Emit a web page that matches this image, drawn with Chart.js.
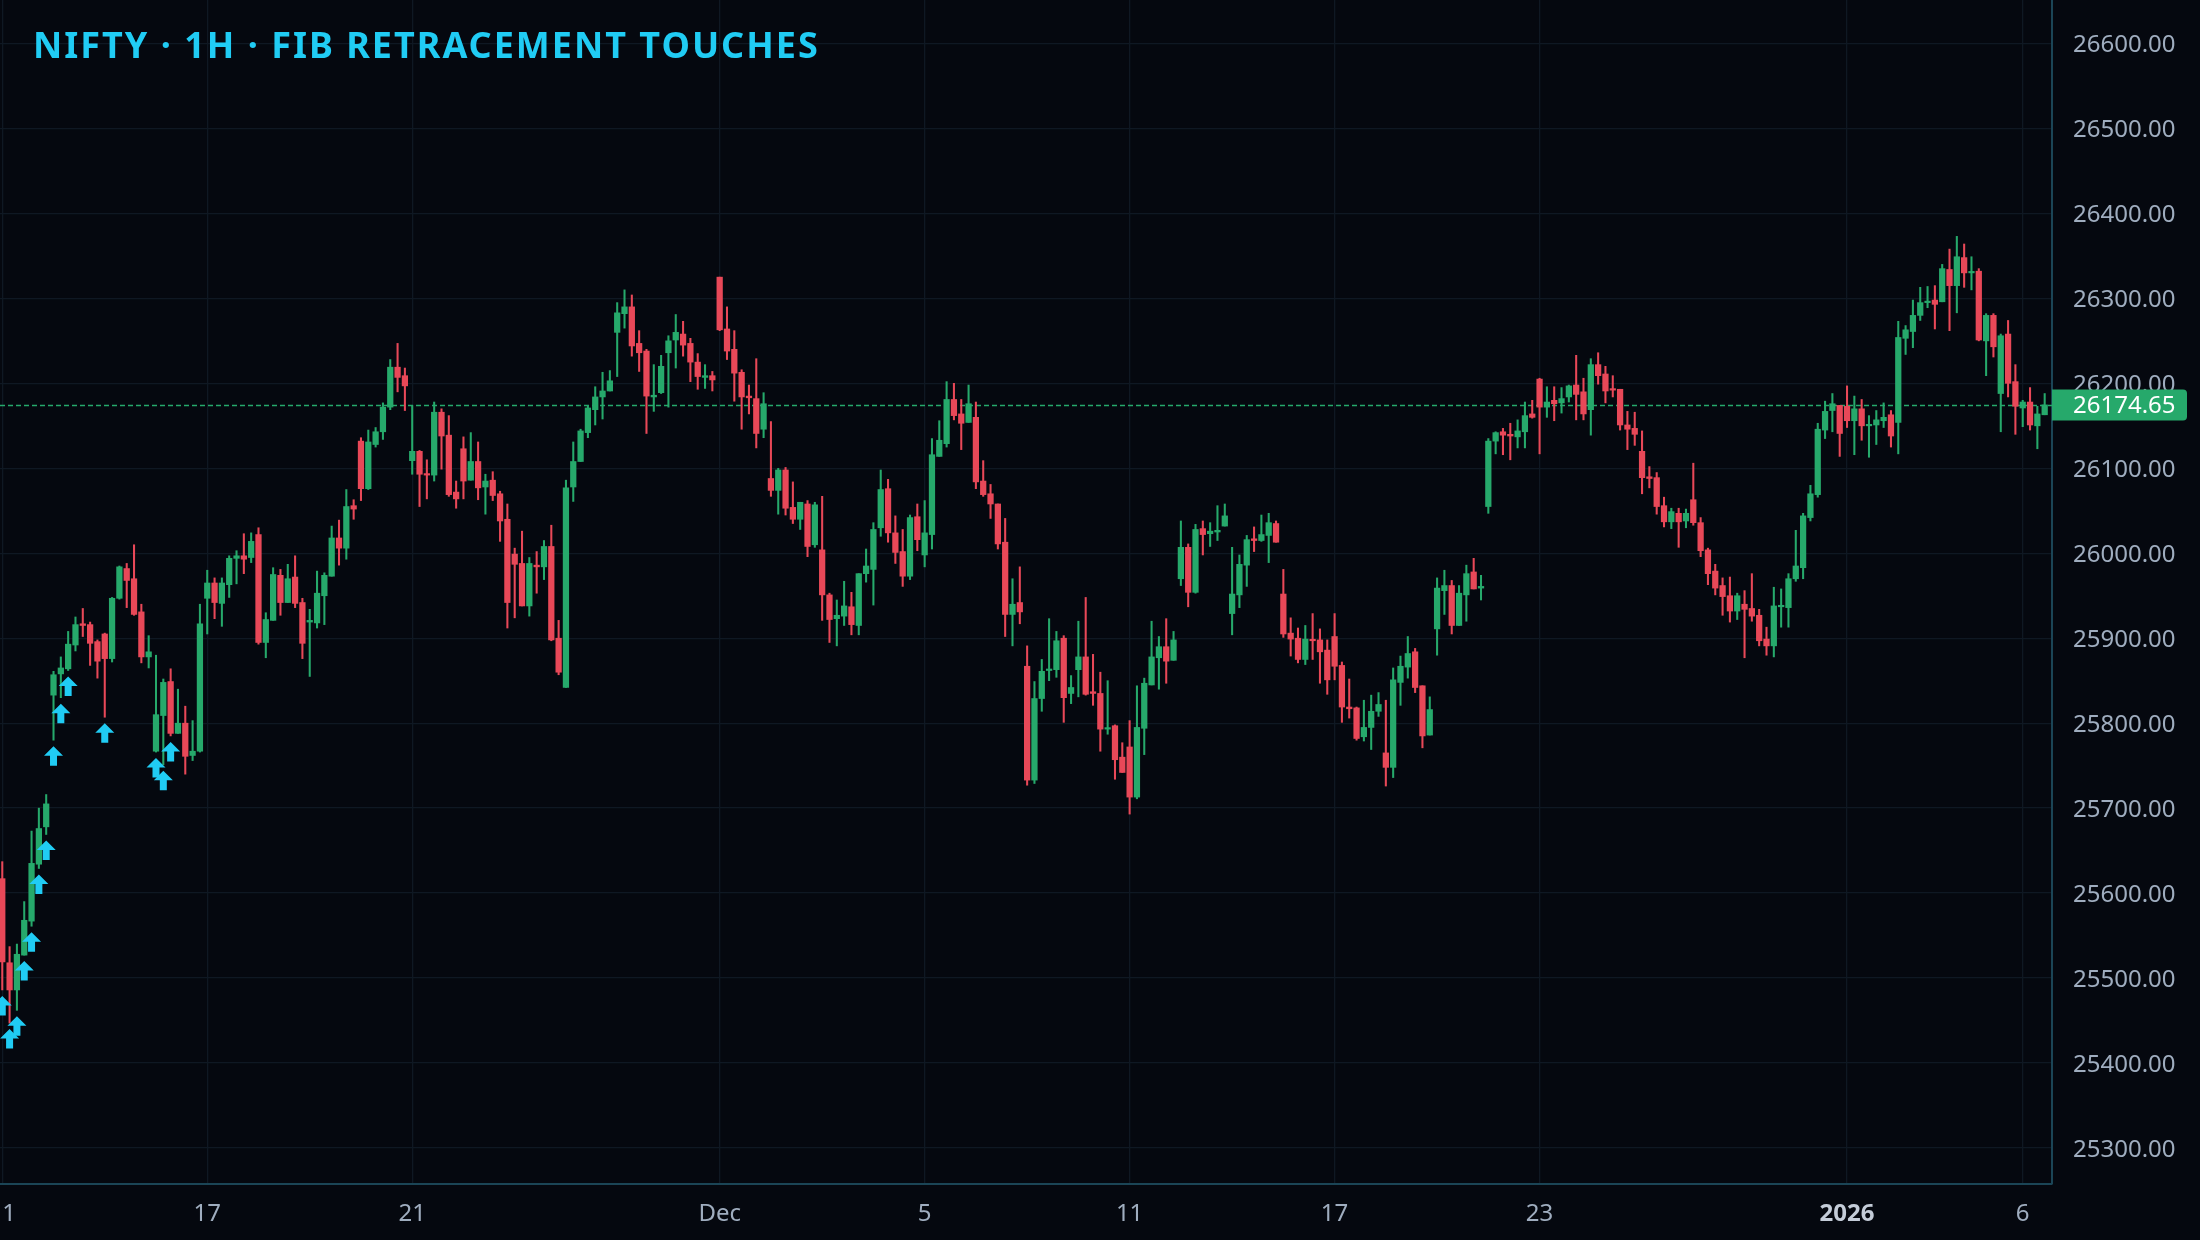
<!DOCTYPE html>
<html>
<head>
<meta charset="utf-8">
<script src="https://cdn.jsdelivr.net/npm/chart.js@4.4.1/dist/chart.umd.min.js"></script>
<style>
  html, body { margin: 0; padding: 0; background: #05080f; }
  #wrap { width: 2200px; height: 1240px; position: relative; }
</style>
</head>
<body>
<div id="wrap"><canvas id="niftyChart"></canvas></div>
<script>
// hourly bars, index 0 = Nov 11 09:15
const opens = [
  25617,25518,25486,25527,25567,25634,25678,25833,25858,25864,
  25892,25917,25916,25896,25905,25876,25947,25982,25970,25931,
  25878,25767,25809,25849,25788,25800,25762,25767,25947,25965,
  25941,25963,25994,25997,25995,26022,25895,25921,25974,25942,
  25972,25942,25919,25918,25950,25973,26018,26006,26056,26132,
  26076,26128,26143,26172,26219,26209,26109,26120,26093,26092,
  26166,26139,26072,26123,26086,26108,26078,26086,26070,26040,
  25999,25988,25938,25986,25984,26008,25900,25842,26078,26108,
  26142,26169,26184,26191,26260,26282,26290,26247,26238,26184,
  26189,26236,26251,26258,26247,26225,26207,26209,26325,26264,
  26240,26213,26185,26182,26146,26088,26074,26098,26054,26040,
  26058,26010,26004,25951,25923,25926,25937,25915,25976,25981,
  26030,26076,26024,26002,25973,26043,25998,26022,26114,26129,
  26181,26164,26154,26160,26085,26070,26058,26013,25928,25942,
  25867,25733,25829,25862,25863,25900,25835,25863,25878,25837,
  25835,25793,25797,25760,25772,25713,25794,25845,25877,25890,
  25874,25970,26007,25954,26029,26023,26025,26032,25929,25951,
  25986,26017,26015,26021,26035,25952,25906,25900,25875,25898,
  25898,25886,25902,25868,25819,25818,25784,25795,25814,25765,
  25748,25848,25866,25884,25844,25786,25911,25956,25962,25915,
  25951,25978,25959,26055,26132,26143,26140,26137,26143,26164,
  26205,26172,26180,26177,26184,26198,26190,26169,26222,26211,
  26193,26193,26151,26147,26120,26090,26089,26056,26037,26047,
  26038,26063,26036,26004,25979,25962,25950,25932,25940,25935,
  25927,25899,25891,25937,25936,25970,25983,26042,26069,26145,
  26168,26174,26173,26156,26170,26150,26151,26156,26163,26154,
  26253,26261,26280,26295,26298,26296,26334,26315,26348,26330,
  26332,26250,26280,26188,26258,26202,26171,26178,26150,26163
];
const highs = [
  25637,25537,25540,25590,25673,25700,25716,25861,25878,25908,
  25925,25935,25919,25898,25906,25948,25985,25988,26010,25940,
  25903,25880,25852,25864,25840,25820,25803,25940,25980,25971,
  25971,25997,26003,26023,26024,26030,25930,25983,25981,25987,
  25997,25947,25934,25979,25977,26032,26039,26075,26063,26136,
  26145,26148,26177,26228,26247,26218,26174,26121,26110,26178,
  26170,26162,26085,26137,26142,26131,26093,26096,26073,26058,
  26006,26026,25995,26002,26015,26033,25921,26086,26131,26146,
  26174,26196,26213,26215,26295,26310,26304,26262,26240,26222,
  26233,26256,26281,26273,26253,26235,26222,26214,26325,26290,
  26262,26216,26198,26229,26189,26155,26100,26101,26084,26060,
  26062,26060,26067,25953,25945,25967,25954,25976,26005,26036,
  26098,26087,26044,26028,26045,26058,26062,26135,26156,26202,
  26200,26181,26198,26178,26109,26081,26058,26041,25970,25984,
  25891,25849,25875,25923,25908,25903,25856,25920,25948,25881,
  25860,25850,25798,25777,25803,25844,25853,25920,25902,25923,
  25908,26038,26011,26034,26038,26036,26056,26058,26007,25998,
  26021,26031,26045,26047,26038,25981,25924,25912,25915,25929,
  25911,25898,25929,25872,25852,25819,25827,25833,25836,25827,
  25865,25879,25902,25888,25844,25831,25971,25980,25968,25962,
  25986,25994,25974,26135,26143,26147,26153,26157,26178,26180,
  26206,26196,26196,26195,26198,26233,26206,26229,26236,26220,
  26209,26193,26167,26166,26144,26102,26095,26066,26053,26053,
  26052,26106,26042,26006,25987,25971,25972,25953,25956,25976,
  25934,25913,25960,25958,25976,26027,26047,26080,26153,26179,
  26188,26174,26197,26185,26181,26162,26168,26177,26168,26273,
  26268,26298,26313,26314,26315,26340,26358,26373,26364,26349,
  26335,26282,26282,26258,26274,26222,26180,26195,26173,26188
];
const lows = [
  25486,25447,25462,25527,25561,25629,25669,25780,25830,25862,
  25885,25902,25868,25853,25807,25872,25946,25936,25927,25871,
  25865,25766,25751,25785,25788,25740,25756,25766,25905,25923,
  25914,25948,25964,25976,25989,25893,25877,25921,25927,25942,
  25936,25876,25855,25912,25916,25973,25986,25993,26040,26062,
  26075,26125,26134,26169,26190,26168,26093,26055,26064,26085,
  26099,26067,26053,26064,26086,26063,26046,26062,26014,25912,
  25924,25938,25926,25953,25969,25897,25857,25842,26061,26108,
  26136,26151,26158,26191,26208,26265,26232,26214,26141,26167,
  26188,26172,26218,26232,26202,26193,26194,26191,26262,26228,
  26179,26146,26164,26124,26136,26067,26046,26045,26035,26028,
  25996,26007,25921,25895,25891,25915,25904,25904,25966,25939,
  26020,26013,25988,25961,25969,26003,25984,26005,26114,26125,
  26157,26122,26154,26076,26067,26041,26005,25902,25891,25917,
  25727,25729,25814,25850,25854,25801,25823,25831,25833,25821,
  25767,25787,25734,25742,25693,25711,25763,25845,25840,25847,
  25874,25962,25937,25953,25998,26008,26015,26032,25904,25936,
  25961,26002,26014,25989,26013,25901,25879,25871,25869,25875,
  25847,25834,25851,25801,25806,25780,25779,25769,25808,25726,
  25736,25821,25853,25836,25771,25786,25880,25928,25905,25915,
  25920,25958,25945,26047,26117,26116,26110,26124,26124,26159,
  26117,26160,26156,26165,26178,26157,26157,26139,26199,26177,
  26184,26145,26122,26127,26070,26077,26046,26031,26029,26007,
  26030,26033,25996,25963,25951,25927,25919,25922,25877,25920,
  25891,25880,25878,25913,25913,25967,25970,26038,26066,26135,
  26143,26114,26148,26116,26133,26113,26128,26148,26125,26117,
  26234,26242,26274,26289,26264,26296,26262,26283,26313,26310,
  26250,26209,26231,26143,26184,26140,26149,26145,26123,26163
];
const closes = [
  25519,25486,25528,25568,25635,25676,25705,25857,25865,25893,
  25916,25915,25894,25873,25876,25947,25984,25968,25928,25878,
  25884,25810,25848,25788,25800,25761,25767,25917,25965,25942,
  25965,25994,25997,25993,26014,25895,25922,25975,25942,25970,
  25941,25894,25921,25953,25974,26018,26006,26055,26052,26076,
  26131,26143,26172,26219,26207,26197,26120,26093,26092,26166,
  26138,26069,26064,26085,26108,26077,26085,26068,26038,25942,
  25987,25938,25988,25984,26008,25898,25860,26077,26108,26144,
  26171,26184,26191,26203,26283,26290,26244,26236,26185,26186,
  26220,26250,26260,26245,26225,26208,26209,26204,26263,26238,
  26212,26184,26183,26141,26176,26074,26098,26053,26040,26060,
  26008,26057,25951,25922,25927,25938,25916,25976,25985,26028,
  26075,26024,26001,25973,26042,26016,26024,26116,26133,26181,
  26162,26153,26176,26084,26069,26058,26011,25928,25940,25931,
  25733,25829,25861,25863,25897,25830,25842,25878,25834,25835,
  25793,25794,25757,25742,25713,25795,25847,25878,25890,25873,
  25898,26007,25954,26028,26022,26026,26027,26044,25952,25987,
  26016,26015,26022,26036,26013,25905,25899,25875,25899,25897,
  25884,25851,25867,25819,25817,25782,25795,25814,25822,25748,
  25851,25867,25882,25842,25785,25816,25959,25962,25915,25953,
  25976,25958,25961,26132,26142,26139,26138,26144,26162,26160,
  26172,26178,26176,26182,26197,26187,26164,26222,26209,26191,
  26192,26151,26146,26140,26089,26088,26055,26037,26049,26037,
  26047,26036,26003,25976,25959,25949,25932,25950,25934,25926,
  25897,25891,25938,25938,25970,25985,26044,26070,26146,26167,
  26176,26141,26156,26170,26150,26151,26157,26160,26138,26254,
  26263,26280,26295,26296,26293,26335,26315,26349,26330,26331,
  26251,26280,26243,26256,26200,26173,26178,26151,26164,26174.65
];

// bars where price touched a fib level
const touchIdx = [0, 1, 2, 3, 4, 5, 6, 7, 8, 9, 14, 21, 22, 23];

// x-axis: first bar of each labelled day
const dayTickIdx = [0, 28, 56, 98, 126, 154, 182, 210, 252, 276];
const dayTickLabels = ["11", "17", "21", "Dec", "5", "11", "17", "23", "2026", "6"];

const priceTicks = [25300, 25400, 25500, 25600, 25700, 25800, 25900,
                    26000, 26100, 26200, 26300, 26400, 26500, 26600];

const UP = "#26a96b";
const DOWN = "#e84858";
const BG = "#05080f";
const GRID = "#0f1823";
const AXIS = "#1b4556";
const LABEL = "#9fadbf";
const CYAN = "#20ccf4";

const lastPrice = closes[closes.length - 1];
const colors = closes.map((c, k) => (c >= opens[k] ? UP : DOWN));

const bodies = opens.map((o, k) => ({ x: k, y: [o, closes[k]] }));
const wicks = lows.map((l, k) => ({ x: k, y: [l, highs[k]] }));

const bgPlugin = {
    id: "bg",
    beforeDraw(chart) {
        const c = chart.ctx;
        c.save();
        c.fillStyle = BG;
        c.fillRect(0, 0, chart.width, chart.height);
        c.restore();
    }
};

const priceLinePlugin = {
    id: "priceLine",
    beforeDatasetsDraw(chart) {
        const { ctx, chartArea, scales } = chart;
        const py = Math.round(scales.y.getPixelForValue(lastPrice)) + 0.5;
        ctx.save();
        ctx.strokeStyle = UP;
        ctx.lineWidth = 1.3;
        ctx.setLineDash([5, 3]);
        ctx.beginPath();
        ctx.moveTo(chartArea.left, py);
        ctx.lineTo(chartArea.right, py);
        ctx.stroke();
        ctx.restore();
    },
    afterDraw(chart) {
        const { ctx, chartArea, scales } = chart;
        const py = scales.y.getPixelForValue(lastPrice);
        const x0 = chartArea.right;
        const w = 135, h = 31, r = 4;
        ctx.save();
        ctx.fillStyle = "#26a96b";
        ctx.beginPath();
        ctx.moveTo(x0, py - h / 2);
        ctx.lineTo(x0 + w - r, py - h / 2);
        ctx.quadraticCurveTo(x0 + w, py - h / 2, x0 + w, py - h / 2 + r);
        ctx.lineTo(x0 + w, py + h / 2 - r);
        ctx.quadraticCurveTo(x0 + w, py + h / 2, x0 + w - r, py + h / 2);
        ctx.lineTo(x0, py + h / 2);
        ctx.closePath();
        ctx.fill();
        ctx.fillStyle = "#ffffff";
        ctx.font = "24px 'Noto Sans'";
        ctx.textBaseline = "middle";
        ctx.textAlign = "left";
        ctx.fillText(lastPrice.toFixed(2), x0 + 21, py + 1);
        ctx.restore();
    }
};

const arrowPlugin = {
    id: "fibArrows",
    afterDatasetsDraw(chart) {
        const { ctx, scales } = chart;
        ctx.save();
        ctx.fillStyle = CYAN;
        touchIdx.forEach(k => {
            const px = scales.x.getPixelForValue(k);
            const top = scales.y.getPixelForValue(lows[k]) + 6;
            ctx.beginPath();
            ctx.moveTo(px, top);
            ctx.lineTo(px + 9.5, top + 9.5);
            ctx.lineTo(px + 3.5, top + 9.5);
            ctx.lineTo(px + 3.5, top + 19.5);
            ctx.lineTo(px - 3.5, top + 19.5);
            ctx.lineTo(px - 3.5, top + 9.5);
            ctx.lineTo(px - 9.5, top + 9.5);
            ctx.closePath();
            ctx.fill();
        });
        ctx.restore();
    }
};

const titlePlugin = {
    id: "chartTitle",
    afterDraw(chart) {
        const ctx = chart.ctx;
        ctx.save();
        ctx.fillStyle = CYAN;
        ctx.font = "bold 36px 'Noto Sans'";
        ctx.letterSpacing = "2px";
        ctx.textBaseline = "alphabetic";
        ctx.textAlign = "left";
        ctx.fillText("NIFTY · 1H · FIB RETRACEMENT TOUCHES", 33, 58);
        ctx.restore();
    }
};

document.addEventListener("DOMContentLoaded", () => {
    const ctx = document.getElementById("niftyChart").getContext("2d");

    new Chart(ctx, {
        type: "bar",
        data: {
            datasets: [
                {
                    label: "body",
                    data: bodies,
                    backgroundColor: colors,
                    borderWidth: 0,
                    barThickness: 5.6,
                    minBarLength: 1.5,
                    grouped: false
                },
                {
                    label: "wick",
                    data: wicks,
                    backgroundColor: colors,
                    borderWidth: 0,
                    barThickness: 1.4,
                    grouped: false
                }
            ]
        },
        options: {
            responsive: true,
            maintainAspectRatio: false,
            devicePixelRatio: 1,
            animation: false,
            layout: { padding: 0 },
            plugins: {
                legend: { display: false },
                tooltip: { enabled: false },
                title: { display: false }
            },
            scales: {
                x: {
                    type: "linear",
                    min: -0.31,
                    max: 280.0,
                    offset: false,
                    afterBuildTicks: s => {
                        s.ticks = dayTickIdx.map(v => ({ value: v }));
                    },
                    afterFit: s => {
                        s.height = 56;
                        s.paddingLeft = 0;
                        s.paddingRight = 0;
                    },
                    ticks: {
                        autoSkip: false,
                        maxRotation: 0,
                        padding: 16,
                        color: c => (c.tick && c.tick.label === "2026" ? "#c4ccd8" : LABEL),
                        font: c => (c.tick && c.tick.label === "2026"
                            ? { family: "'Noto Sans'", size: 24, weight: "bold" }
                            : { family: "'Noto Sans'", size: 24 }),
                        callback: v => dayTickLabels[dayTickIdx.indexOf(v)]
                    },
                    grid: {
                        color: GRID,
                        lineWidth: 1.3,
                        drawTicks: false,
                        offset: false
                    },
                    border: { display: true, color: AXIS, width: 2 }
                },
                y: {
                    type: "linear",
                    position: "right",
                    min: 25257.6,
                    max: 26651.2,
                    afterBuildTicks: s => {
                        s.ticks = priceTicks.map(v => ({ value: v }));
                    },
                    afterFit: s => {
                        s.width = 148;
                        s.paddingTop = 0;
                        s.paddingBottom = 0;
                    },
                    ticks: {
                        padding: 21,
                        labelOffset: 2,
                        color: LABEL,
                        font: { family: "'Noto Sans'", size: 24 },
                        callback: v => Number(v).toFixed(2)
                    },
                    grid: {
                        color: GRID,
                        lineWidth: 1.3,
                        drawTicks: false
                    },
                    border: { display: true, color: AXIS, width: 2 }
                }
            }
        },
        plugins: [bgPlugin, priceLinePlugin, arrowPlugin, titlePlugin]
    });
});
</script>
</body>
</html>
